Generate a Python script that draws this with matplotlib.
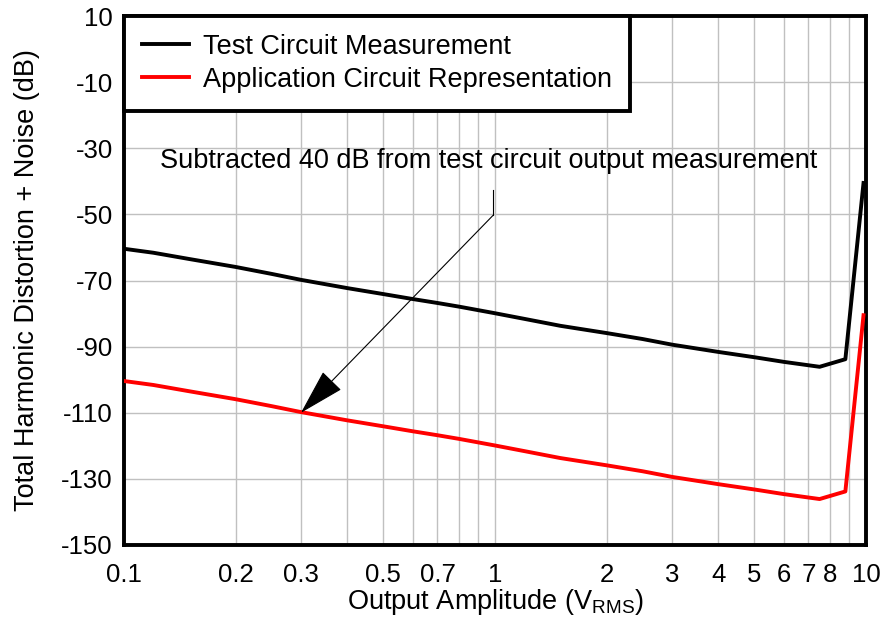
import numpy as np
import matplotlib.pyplot as plt
from matplotlib.ticker import FixedLocator, NullFormatter

plt.rcParams['font.family'] = ['Liberation Sans', 'DejaVu Sans']
plt.rcParams['mathtext.fontset'] = 'custom'
plt.rcParams['mathtext.rm'] = 'Liberation Sans'
plt.rcParams['axes.unicode_minus'] = False

# output amplitude (Vrms)
amplitude = [0.1, 0.12, 0.15, 0.2, 0.25, 0.3, 0.4, 0.5, 0.6, 0.7, 0.8, 1.0,
             1.2, 1.5, 2.0, 2.5, 3.0, 4.0, 5.0, 6.0, 7.5, 8.8, 9.85]
# THD+N (dB)
test_circuit = [-60.4, -61.6, -63.5, -65.9, -68.0, -69.8, -72.3, -74.1, -75.6,
                -76.8, -77.9, -79.9, -81.6, -83.7, -85.9, -87.7, -89.4, -91.6,
                -93.2, -94.6, -96.1, -93.8, -40.5]
application_circuit = [-100.4, -101.6, -103.5, -105.9, -108.0, -109.8, -112.3,
                       -114.1, -115.6, -116.8, -117.9, -119.9, -121.6, -123.7,
                       -125.9, -127.7, -129.4, -131.6, -133.2, -134.6, -136.1,
                       -133.8, -80.5]

x_ticks = [0.1, 0.2, 0.3, 0.5, 0.7, 1, 2, 3, 4, 5, 6, 7, 8, 10]
x_tick_labels = ['0.1', '0.2', '0.3', '0.5', '0.7', '1', '2', '3', '4', '5',
                 '6', '7', '8', '10']
x_grid = [0.1, 0.2, 0.3, 0.4, 0.5, 0.6, 0.7, 0.8, 0.9, 1, 2, 3, 4, 5, 6, 7, 8, 9, 10]
y_ticks = list(range(10, -151, -20))

fig = plt.figure(figsize=(8.83, 6.26), dpi=100)
ax = fig.add_axes([0.1404, 0.1294, 0.8403, 0.845])

ax.set_xscale('log')
ax.set_xlim(0.1, 10)
ax.set_ylim(-150, 10)

ax.plot(amplitude, test_circuit, color='black', lw=2.8, label='Test Circuit Measurement', zorder=3)
ax.plot(amplitude, application_circuit, color='#ff0000', lw=2.8,
        label='Application Circuit Representation', zorder=3)

ax.xaxis.set_major_locator(FixedLocator(x_ticks))
ax.set_xticklabels(x_tick_labels)
ax.xaxis.set_minor_locator(FixedLocator(x_grid))
ax.xaxis.set_minor_formatter(NullFormatter())
ax.set_yticks(y_ticks)

ax.grid(True, which='both', axis='x', color='#c0c0c0', lw=1.0)
ax.grid(True, which='major', axis='y', color='#c0c0c0', lw=1.0)
ax.tick_params(which='both', length=0, labelsize=18.5)
ax.tick_params(axis='x', pad=13)
ax.tick_params(axis='y', pad=8)

for s in ax.spines.values():
    s.set_linewidth(2.8)

ax.set_xlabel(r'Output Amplitude (V$_{\mathregular{RMS}}$)', fontsize=19.5, labelpad=0)
ax.set_ylabel('Total Harmonic Distortion + Noise (dB)', fontsize=19.5, labelpad=15)

# annotation
ax.text(0.96, -34, 'Subtracted 40 dB from test circuit output measurement',
        ha='center', va='center', fontsize=19.5)
ax.plot([0.99, 0.99], [-42.6, -50.2], color='black', lw=0.8)
ax.annotate('', xy=(0.3, -110), xytext=(0.99, -50.2),
            arrowprops=dict(arrowstyle='-|>,head_length=1.5,head_width=0.42',
                            mutation_scale=20, color='black', lw=0.8,
                            shrinkA=0, shrinkB=0))

leg = ax.legend(loc='upper left', borderaxespad=0, fancybox=False, framealpha=1,
                edgecolor='black', fontsize=19.5, handlelength=1.75, handletextpad=0.5,
                borderpad=0.66, labelspacing=0.25)
leg.get_frame().set_linewidth(2.8)
leg.set_zorder(5)

fig.savefig('out.png', dpi=100)
